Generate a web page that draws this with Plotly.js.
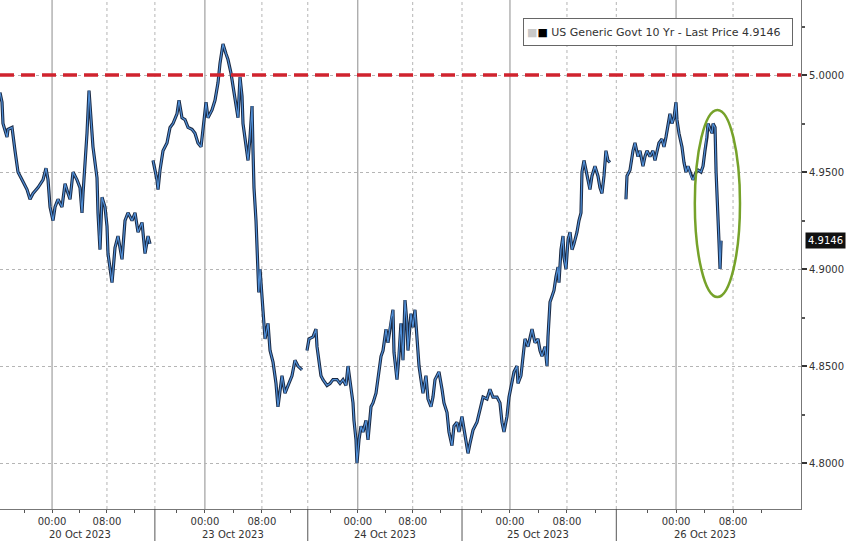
<!DOCTYPE html>
<html>
<head>
<meta charset="utf-8">
<script src="https://cdn.plot.ly/plotly-3.0.1.min.js"></script>
<style>
html,body{margin:0;padding:0;background:#fff;}
#chart{width:848px;height:541px;}
</style>
</head>
<body>
<div id="chart"></div>
<script>
// ---- Data: [session hour, yield %] (US Generic Govt 10 Yr) ----
const oct20 = [[-0.29,4.991],[0,4.986],[0.14,4.975],[0.72,4.968],[0.86,4.972],[1.44,4.973],[1.87,4.961],[2.30,4.950],[2.88,4.946],[3.60,4.941],[4.03,4.936],[4.46,4.939],[5.18,4.942],[5.90,4.946],[6.33,4.952],[6.62,4.946],[6.91,4.932],[7.34,4.925],[7.63,4.932],[8.06,4.936],[8.63,4.932],[9.07,4.944],[9.50,4.939],[9.79,4.936],[10.22,4.950],[10.79,4.946],[11.22,4.942],[11.51,4.929],[11.66,4.939],[11.94,4.953],[12.23,4.970],[12.52,4.992],[12.81,4.977],[13.09,4.963],[13.67,4.947],[13.81,4.929],[14.10,4.910],[14.39,4.937],[14.82,4.932],[15.11,4.922],[15.25,4.908],[15.83,4.893],[16.26,4.911],[16.69,4.917],[17.27,4.905],[17.70,4.925],[18.13,4.929],[18.71,4.925],[19.14,4.929],[19.57,4.919],[20.15,4.924],[20.58,4.908],[21.01,4.917],[21.30,4.913]];
const oct23 = [[21.73,4.956],[22.30,4.946],[22.45,4.941],[22.74,4.951],[23.17,4.961],[23.74,4.965],[24.18,4.973],[24.61,4.975],[25.18,4.980],[25.47,4.987],[25.90,4.978],[26.33,4.977],[26.77,4.973],[27.34,4.972],[27.77,4.970],[28.20,4.965],[28.64,4.963],[28.92,4.972],[29.36,4.986],[29.64,4.978],[30.22,4.982],[30.65,4.987],[31.08,4.996],[31.37,5.006],[31.80,5.016],[32.23,5.011],[32.52,5.008],[32.95,5.001],[33.24,4.994],[33.67,4.986],[33.96,4.978],[34.25,4.999],[34.54,4.989],[34.68,4.975],[35.11,4.963],[35.40,4.956],[35.69,4.968],[35.98,4.984],[36.12,4.961],[36.26,4.942],[36.55,4.925],[36.84,4.903],[36.95,4.888],[37.13,4.900],[37.41,4.886],[37.56,4.874],[37.85,4.864],[38.28,4.872],[38.57,4.858],[39.00,4.852],[39.43,4.841],[39.71,4.829],[40.00,4.838],[40.29,4.845],[40.72,4.836],[41.16,4.840],[41.73,4.845],[42.16,4.853],[42.59,4.850],[43.17,4.848]];
const oct24to25 = [[43.89,4.858],[44.18,4.864],[44.75,4.865],[45.18,4.869],[45.33,4.860],[45.62,4.852],[45.90,4.845],[46.19,4.843],[46.77,4.840],[47.20,4.841],[47.63,4.843],[48.21,4.843],[48.64,4.841],[49.07,4.843],[49.50,4.840],[49.79,4.850],[50.08,4.843],[50.51,4.831],[50.65,4.822],[50.94,4.812],[51.08,4.800],[51.37,4.812],[51.66,4.819],[51.95,4.816],[52.38,4.822],[52.67,4.812],[53.10,4.829],[53.39,4.831],[53.82,4.836],[54.11,4.843],[54.54,4.855],[54.83,4.858],[55.26,4.869],[55.54,4.862],[55.97,4.874],[56.26,4.879],[56.41,4.857],[56.84,4.843],[57.12,4.855],[57.41,4.872],[57.70,4.853],[57.99,4.884],[58.28,4.872],[58.42,4.858],[58.85,4.877],[59.14,4.870],[59.43,4.879],[59.72,4.865],[60.01,4.850],[60.29,4.843],[60.58,4.836],[61.01,4.845],[61.30,4.833],[61.73,4.829],[62.02,4.834],[62.31,4.843],[62.60,4.845],[62.88,4.847],[63.32,4.838],[63.60,4.831],[64.04,4.826],[64.32,4.816],[64.75,4.809],[65.04,4.819],[65.47,4.821],[65.76,4.816],[66.19,4.824],[66.62,4.814],[67.06,4.805],[67.34,4.810],[67.78,4.817],[68.35,4.821],[68.78,4.827],[69.22,4.834],[69.79,4.833],[70.22,4.838],[70.65,4.834],[71.23,4.834],[71.66,4.831],[71.95,4.821],[72.24,4.816],[72.67,4.824],[72.96,4.834],[73.39,4.843],[73.68,4.847],[74.11,4.850],[74.25,4.841],[74.68,4.845],[74.97,4.855],[75.26,4.864],[75.69,4.860],[75.98,4.864],[76.27,4.869],[76.70,4.862],[77.13,4.864],[77.42,4.858],[77.71,4.855],[78.14,4.860],[78.43,4.850],[78.57,4.865],[78.86,4.883],[79.15,4.886],[79.43,4.889],[79.72,4.896],[80.01,4.901],[80.15,4.893],[80.44,4.910],[80.73,4.917],[80.87,4.906],[81.16,4.900],[81.45,4.915],[81.74,4.919],[82.03,4.910],[82.31,4.913],[82.74,4.919],[83.03,4.925],[83.32,4.929],[83.46,4.950],[83.75,4.956],[84.04,4.951],[84.33,4.946],[84.61,4.941],[84.90,4.948],[85.33,4.953],[85.76,4.948],[86.05,4.942],[86.34,4.939],[86.63,4.948],[86.91,4.961],[87.20,4.956],[87.49,4.955]];
const oct26 = [[89.79,4.936],[89.94,4.948],[90.37,4.951],[90.80,4.961],[91.09,4.965],[91.52,4.958],[91.81,4.961],[92.24,4.953],[92.53,4.958],[92.82,4.961],[93.25,4.958],[93.68,4.961],[93.97,4.956],[94.25,4.960],[94.54,4.965],[94.97,4.967],[95.26,4.963],[95.55,4.968],[95.84,4.975],[96.12,4.980],[96.41,4.975],[96.70,4.978],[96.99,4.986],[97.13,4.977],[97.42,4.970],[97.85,4.963],[98.14,4.955],[98.43,4.950],[98.72,4.953],[99.15,4.948],[99.44,4.946],[99.88,4.950],[100.16,4.951],[100.59,4.950],[100.88,4.953],[101.16,4.961],[101.45,4.968],[101.60,4.975],[101.89,4.972],[102.18,4.970],[102.32,4.975],[102.61,4.973],[102.76,4.950],[102.90,4.934],[103.05,4.924],[103.19,4.913],[103.33,4.900],[103.48,4.9146]];

const lastPrice = 4.9146;
const threshold = 5.0;

// ---- Axis labels ----
const midnightHours = [7.2, 29.2, 51.2, 73.1, 97.0];
const eightHours = [15.1, 37.4, 59.1, 81.3, 105.2];
const sessionBounds = [22.0, 44.0, 66.2, 88.4];
const dayLabels = ['20 Oct 2023', '23 Oct 2023', '24 Oct 2023', '25 Oct 2023', '26 Oct 2023'];
const yTicks = [4.80, 4.85, 4.90, 4.95, 5.00];
const legendText = 'US Generic Govt 10 Yr - Last Price 4.9146';

// ---- Build series with gaps between sessions ----
const xs = [], ys = [];
[oct20, oct23, oct24to25, oct26].forEach((seg, i) => {
  if (i > 0) { xs.push(null); ys.push(null); }
  seg.forEach(p => { xs.push(p[0]); ys.push(p[1]); });
});

// minor 4h ticks
const minorTicks = [];
midnightHours.forEach((m, i) => {
  const step = (eightHours[i] - m) / 2;
  [-1, 1, 3].forEach(k => minorTicks.push(m + k * step));
});
const tickvals = [], ticktext = [];
midnightHours.forEach((m, i) => { tickvals.push(m); ticktext.push('00:00'); tickvals.push(eightHours[i]); ticktext.push('08:00'); });
minorTicks.forEach(t => { tickvals.push(t); ticktext.push(''); });

const traces = [
  {x: xs, y: ys, type: 'scatter', mode: 'lines', connectgaps: false,
   line: {color: '#1b2a44', width: 3.2}, hoverinfo: 'skip'},
  {x: xs, y: ys, type: 'scatter', mode: 'lines', connectgaps: false,
   line: {color: '#4f8ed6', width: 1.2}, hoverinfo: 'skip'}
];

const shapes = [];
midnightHours.forEach(m => shapes.push({type: 'line', xref: 'x', yref: 'paper', x0: m, x1: m, y0: 0, y1: 1, layer: 'below', line: {color: '#8c8c8c', width: 1}}));
eightHours.concat(sessionBounds).forEach(m => shapes.push({type: 'line', xref: 'x', yref: 'paper', x0: m, x1: m, y0: 0, y1: 1, layer: 'below', line: {color: '#b5b5b5', width: 1, dash: 'dot'}}));
sessionBounds.forEach(m => shapes.push({type: 'line', xref: 'x', yref: 'paper', x0: m, x1: m, y0: 0, y1: -0.07, line: {color: '#555', width: 1}}));
shapes.push({type: 'line', xref: 'paper', yref: 'y', x0: 0, x1: 1, y0: threshold, y1: threshold, line: {color: '#d0232e', width: 3.5, dash: '14px,7px'}});
shapes.push({type: 'circle', xref: 'x', yref: 'y', x0: 99.7, x1: 106.2, y0: 4.8856, y1: 4.982, line: {color: '#76a22a', width: 2.5}});

const annotations = dayLabels.map((d, i) => ({
  x: midnightHours[i] + (eightHours[i] - midnightHours[i]) / 2, y: 0, xref: 'x', yref: 'paper',
  yanchor: 'top', yshift: -18, showarrow: false, text: d,
  font: {family: 'DejaVu Sans', size: 10, color: '#333'}
}));
annotations.push({
  xref: 'paper', yref: 'paper', x: 523 / 801, y: 1 - 18 / 509, xanchor: 'left', yanchor: 'top',
  showarrow: false, align: 'left', width: 262, height: 20, borderpad: 3,
  bgcolor: '#ffffff', bordercolor: '#666', borderwidth: 1,
  text: '<span style="color:#c8c8c8">■</span><span style="color:#000">■</span> ' + legendText,
  font: {family: 'DejaVu Sans', size: 11, color: '#333'}
});
annotations.push({
  xref: 'paper', yref: 'y', x: 1, y: lastPrice, xanchor: 'left', xshift: 4,
  showarrow: false, text: lastPrice.toFixed(4), bgcolor: '#111', borderpad: 2,
  font: {family: 'DejaVu Sans', size: 10, color: '#fff'}
});

const layout = {
  width: 848, height: 541,
  margin: {l: 0, r: 47, t: 0, b: 32, pad: 0},
  paper_bgcolor: '#fff', plot_bgcolor: '#fff',
  showlegend: false,
  xaxis: {
    range: [-0.29, 114.98], showgrid: false, zeroline: false,
    showline: true, linecolor: '#777', linewidth: 1,
    tickmode: 'array', tickvals: tickvals, ticktext: ticktext,
    ticks: 'outside', ticklen: 3, tickcolor: '#555',
    tickfont: {family: 'DejaVu Sans', size: 10, color: '#333'}
  },
  yaxis: {
    side: 'right', range: [4.7763, 5.0387], zeroline: false,
    showline: true, linecolor: '#777', linewidth: 1,
    tickmode: 'array', tickvals: yTicks, ticktext: yTicks.map(v => v.toFixed(4)),
    ticks: 'outside', ticklen: 5, tickwidth: 2, tickcolor: '#333',
    showgrid: true, gridcolor: '#b5b5b5', griddash: 'dot', gridwidth: 1,
    minor: {dtick: 0.025, tick0: 4.8, ticks: 'outside', ticklen: 3, tickcolor: '#555', showgrid: false},
    tickfont: {family: 'DejaVu Sans', size: 10, color: '#333'}
  },
  shapes: shapes,
  annotations: annotations
};

Plotly.newPlot('chart', traces, layout, {staticPlot: true, displayModeBar: false});
</script>
</body>
</html>
